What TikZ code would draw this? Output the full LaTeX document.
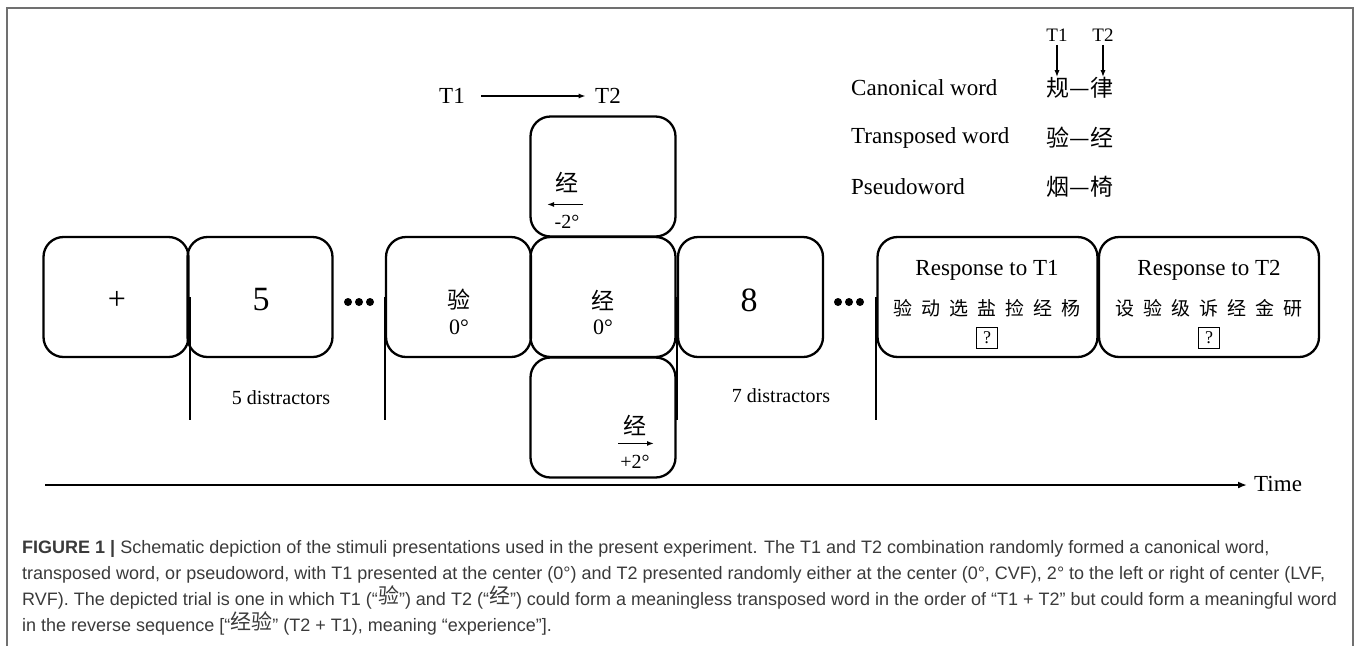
\documentclass[tikz,border=0pt]{standalone}
\usepackage{fontspec}
\setmainfont{Liberation Serif}
\newfontfamily\cjk{Noto Sans CJK SC}
\newfontfamily\capsans{Liberation Sans}
\definecolor{framegray}{RGB}{112, 112, 112}
\definecolor{captgray}{RGB}{58, 58, 58}
\usetikzlibrary{arrows.meta, calc}

\tikzset{
  slide/.style={draw, line width=2.3pt, rounded corners=20pt, minimum width=145pt, minimum height=120pt, inner sep=0pt},
  respslide/.style={slide, minimum width=220pt},
  bigdigit/.style={font=\fontsize{34}{36}\selectfont},
  hanzi/.style={font=\cjk\fontsize{23}{26}\selectfont, inner sep=0pt},
  charrow/.style={font=\cjk\fontsize{19}{22}\selectfont, inner sep=0pt},
  deg/.style={font=\fontsize{22}{24}\selectfont, inner sep=0pt},
  label/.style={font=\fontsize{23}{26}\selectfont},
  small/.style={font=\fontsize{20}{22}\selectfont},
  qbox/.style={draw, line width=0.9pt, minimum size=21pt, inner sep=0pt, font=\fontsize{18}{20}\selectfont},
  rule/.style={line width=2pt},
  tick/.style={line width=1.6pt, -{Latex[length=7pt,width=5pt]}}
}
\newcommand\hzgap{\hspace{9pt}}

\begin{document}
\begin{tikzpicture}[x=1pt, y=-1pt]
  \useasboundingbox (0,0) rectangle (1357,646);
  \draw[framegray, line width=2pt] (7,646) -- (7,8) -- (1353,8) -- (1353,646);

  % the RSVP stream
  \node[slide] (fix) at (116,297) {};
  \node[slide] (dig5) at (260,297) {};
  \node[slide] (tone1) at (458.5,297) {};
  \node[slide] (tone2) at (603,297) {};
  \node[slide] (left) at (603,176.5) {};
  \node[slide] (right) at (603,417.5) {};
  \node[slide] (dig8) at (750.5,297) {};
  \node[respslide] (resp1) at (987.5,297) {};
  \node[respslide] (resp2) at (1209,297) {};

  \node[font=\fontsize{32}{34}\selectfont] (fixtxt) at (117,300) {+};
  \node[bigdigit] (dig5txt) at (261,300) {5};
  \node[bigdigit] (dig8txt) at (749,300) {8};

  % T1 and T2 slides
  \node[hanzi] (tone1char) at (459,300) {验};
  \node[deg] (tone1deg) at (459,327) {0°};
  \node[hanzi] (tone2char) at (603,300) {经};
  \node[deg] (tone2deg) at (603,327) {0°};
  \node[hanzi] (leftchar) at (567,182) {经};
  \draw[tick] ($(leftchar.south)+(16,12)$) -- ++(-36,0);
  \node[small, inner sep=0pt] (leftdeg) at (567,222) {-2°};
  \node[hanzi] (rightchar) at (635,425) {经};
  \draw[tick] ($(rightchar.south)+(-17,8)$) -- ++(36,0);
  \node[small, inner sep=0pt] (rightdeg) at (635,462) {+2°};

  % response screens
  \node[label] (resp1title) at (987,270) {Response to T1};
  \node[charrow] (resp1chars) at (987,308) {验\hzgap 动\hzgap 选\hzgap 盐\hzgap 捡\hzgap 经\hzgap 杨};
  \node[qbox] (resp1q) at (987,338) {?};
  \node[label] (resp2title) at (1209,270) {Response to T2};
  \node[charrow] (resp2chars) at (1209,308) {设\hzgap 验\hzgap 级\hzgap 诉\hzgap 经\hzgap 金\hzgap 研};
  \node[qbox] (resp2q) at (1209,338) {?};

  % gaps
  \coordinate (gap1) at (359,302);
  \coordinate (gap2) at (849,302);
  \foreach \g in {gap1, gap2}
    \foreach \dx in {-11,0,11}
      \fill ($(\g)+(\dx,0)$) circle (4pt);

  % distractor brackets
  \draw[rule] (fix.east) -- ++(0,123);
  \draw[rule] (tone1.west) -- ++(0,123);
  \draw[rule] (dig8.west) -- ++(0,123);
  \draw[rule] (resp1.west) -- ++(0,123);
  \node[small] (pre) at (281,398) {5 distractors};
  \node[small] (post) at (781,396) {7 distractors};

  % order of targets
  \node[label] (t1) at (452,96) {T1};
  \node[label] (t2) at (608,96) {T2};
  \draw[tick, shorten <=13pt, shorten >=6pt] (t1) -- (t2);

  % word types
  \node[label, anchor=west, inner sep=0pt] (canon) at (851,88) {Canonical word};
  \node[label, anchor=west, inner sep=0pt] (trans) at (851,138) {Transposed word};
  \node[label, anchor=west, inner sep=0pt] (pseudo) at (851,187) {Pseudoword};
  \node[hanzi] (canonpair) at (1080,88) {规—律};
  \node[hanzi] (transpair) at (1080,138) {验—经};
  \node[hanzi] (pseudopair) at (1080,187) {烟—椅};
  \node[font=\fontsize{19}{20}\selectfont] (ct1) at (1057,35) {T1};
  \node[font=\fontsize{19}{20}\selectfont] (ct2) at (1103,35) {T2};
  \draw[tick] (ct1) -- (ct1 |- canonpair.north);
  \draw[tick] (ct2) -- (ct2 |- canonpair.north);

  % time axis
  \coordinate (tstart) at (45,485);
  \node[label, anchor=west, inner sep=0pt] (time) at (1254,484) {Time};
  \draw[line width=2.4pt, -{Latex[length=9pt,width=7pt]}] (tstart) -- ($(time.west)+(-7,1)$);

  % caption
  \node[anchor=north west, inner sep=0pt, align=left, text=captgray,
        font=\capsans\fontsize{18}{26}\selectfont] (caption) at (22,540)
  {\textbf{FIGURE 1 |} Schematic depiction of the stimuli presentations used in the present experiment. The T1 and T2 combination randomly formed a canonical word,\\
   transposed word, or pseudoword, with T1 presented at the center (0°) and T2 presented randomly either at the center (0°, CVF), 2° to the left or right of center (LVF,\\
   RVF). The depicted trial is one in which T1 (“\raisebox{2pt}{\cjk\fontsize{21}{21}\selectfont 验}”) and T2 (“\raisebox{2pt}{\cjk\fontsize{21}{21}\selectfont 经}”) could form a meaningless transposed word in the order of “T1 + T2” but could form a meaningful word\\
   in the reverse sequence [“\raisebox{2pt}{\cjk\fontsize{21}{21}\selectfont 经验}” (T2 + T1), meaning “experience”].};
\end{tikzpicture}
\end{document}
